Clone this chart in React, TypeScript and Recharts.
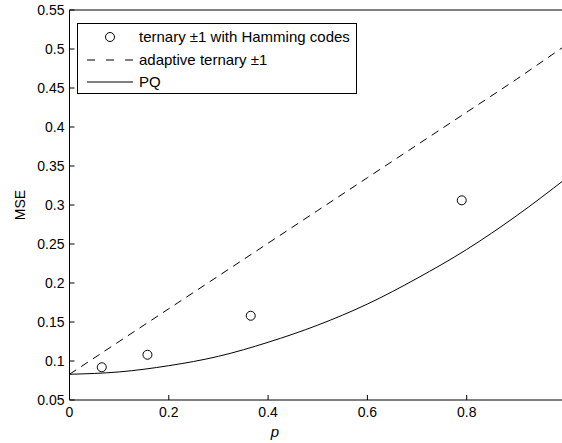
import React from "react";
import { ComposedChart, Line, Scatter, XAxis, YAxis } from "recharts";

// values
const pGrid = [0, 0.1, 0.2, 0.3, 0.4, 0.5, 0.6, 0.7, 0.8, 0.9, 1.0];
const adaptiveMse = [0.083, 0.125, 0.167, 0.209, 0.251, 0.293, 0.335, 0.377, 0.419, 0.461, 0.505];
const pqMse = [0.083, 0.086, 0.094, 0.106, 0.124, 0.146, 0.173, 0.206, 0.243, 0.286, 0.334];

const hammingP = [0.065, 0.157, 0.365, 0.79];
const hammingMse = [0.092, 0.108, 0.158, 0.306];

// the figure is cropped just before p = 1, so its tick is not shown
const xTicks = [0, 0.2, 0.4, 0.6, 0.8];
const yTicks = [0.05, 0.1, 0.15, 0.2, 0.25, 0.3, 0.35, 0.4, 0.45, 0.5, 0.55];

const FONT = "Liberation Sans, Arial, Helvetica, sans-serif";

const lineData = pGrid.map((p, i) => ({ p, adaptive: adaptiveMse[i], pq: pqMse[i] }));
const pointData = hammingP.map((p, i) => ({ p, mse: hammingMse[i] }));

const fmt = (v: number) => String(Number(v.toFixed(2)));

const BottomTick = (props: any) => {
    const { x, y, payload } = props;
    return (
        <g>
            <line x1={x} y1={y} x2={x} y2={y - 5} stroke="#000" />
            <text x={x} y={y + 17} textAnchor="middle" fontSize={14} fontFamily={FONT} fill="#000">
                {fmt(payload.value)}
            </text>
        </g>
    );
};

const TopTick = (props: any) => {
    const { x, y } = props;
    return <line x1={x} y1={y} x2={x} y2={y + 5} stroke="#000" />;
};

const LeftTick = (props: any) => {
    const { x, y, payload } = props;
    return (
        <g>
            <line x1={x} y1={y} x2={x + 5} y2={y} stroke="#000" />
            <text x={x - 5} y={y + 5} textAnchor="end" fontSize={14} fontFamily={FONT} fill="#000">
                {fmt(payload.value)}
            </text>
        </g>
    );
};

function LegendBox() {
    const rows = [
        { label: "ternary \u00b11 with Hamming codes", kind: "circle", y: 37 },
        { label: "adaptive ternary \u00b11", kind: "dash", y: 60 },
        { label: "PQ", kind: "solid", y: 82 },
    ];
    return (
        <svg width={562} height={443} style={{ position: "absolute", left: 0, top: 0, pointerEvents: "none" }}>
            <rect x={77.5} y={23.5} width={279} height={70} fill="#fff" stroke="#000" />
            {rows.map((r) => (
                <g key={r.label}>
                    {r.kind === "circle" && <circle cx={110} cy={r.y} r={4.5} fill="none" stroke="#000" />}
                    {r.kind === "dash" && (
                        <line x1={87} y1={r.y} x2={133} y2={r.y} stroke="#000" strokeDasharray="8 11" />
                    )}
                    {r.kind === "solid" && <line x1={87} y1={r.y} x2={133} y2={r.y} stroke="#000" />}
                    <text x={139} y={r.y + 5} fontSize={15} fontFamily={FONT} fill="#000">
                        {r.label}
                    </text>
                </g>
            ))}
        </svg>
    );
}

export default function App() {
    return (
        <div style={{ position: "absolute", left: 0, top: 0, width: 562, height: 443, overflow: "hidden", background: "#fff" }}>
            <ComposedChart width={600} height={443} margin={{ top: 0, right: 34, bottom: 0, left: 0 }}>
                <XAxis
                    xAxisId="bottom"
                    type="number"
                    dataKey="p"
                    domain={[0, 1]}
                    ticks={xTicks}
                    height={43}
                    tickSize={0}
                    tickMargin={0}
                    tickLine={false}
                    axisLine={{ stroke: "#000" }}
                    tick={<BottomTick />}
                    allowDataOverflow
                    label={{
                        content: () => (
                            <text x={275} y={437} textAnchor="middle" fontSize={15} fontStyle="italic" fontFamily={FONT} fill="#000">
                                p
                            </text>
                        ),
                    }}
                />
                <XAxis
                    xAxisId="top"
                    orientation="top"
                    type="number"
                    dataKey="p"
                    domain={[0, 1]}
                    ticks={xTicks}
                    height={10}
                    tickSize={0}
                    tickMargin={0}
                    tickLine={false}
                    axisLine={{ stroke: "#000" }}
                    tick={<TopTick />}
                />
                <YAxis
                    type="number"
                    domain={[0.05, 0.55]}
                    ticks={yTicks}
                    width={69.5}
                    tickSize={0}
                    tickMargin={0}
                    tickLine={false}
                    axisLine={{ stroke: "#000" }}
                    tick={<LeftTick />}
                    allowDataOverflow
                    label={{
                        content: (props: any) => {
                            const vb = props.viewBox || { y: 10, height: 390 };
                            const cy = vb.y + vb.height / 2;
                            return (
                                <text
                                    x={20}
                                    y={cy}
                                    transform={`rotate(-90, 20, ${cy})`}
                                    textAnchor="middle"
                                    dominantBaseline="central"
                                    fontSize={14}
                                    fontFamily={FONT}
                                    fill="#000"
                                >
                                    MSE
                                </text>
                            );
                        },
                    }}
                />
                <Line
                    xAxisId="bottom"
                    data={lineData}
                    dataKey="adaptive"
                    type="linear"
                    stroke="#000"
                    strokeWidth={1}
                    strokeDasharray="8 6"
                    dot={false}
                    activeDot={false}
                    isAnimationActive={false}
                />
                <Line
                    xAxisId="bottom"
                    data={lineData}
                    dataKey="pq"
                    type="monotone"
                    stroke="#000"
                    strokeWidth={1}
                    dot={false}
                    activeDot={false}
                    isAnimationActive={false}
                />
                <Scatter
                    xAxisId="bottom"
                    data={pointData}
                    dataKey="mse"
                    isAnimationActive={false}
                    shape={(props: any) => <circle cx={props.cx} cy={props.cy} r={4.5} fill="none" stroke="#000" />}
                />
            </ComposedChart>
            <LegendBox />
        </div>
    );
}
